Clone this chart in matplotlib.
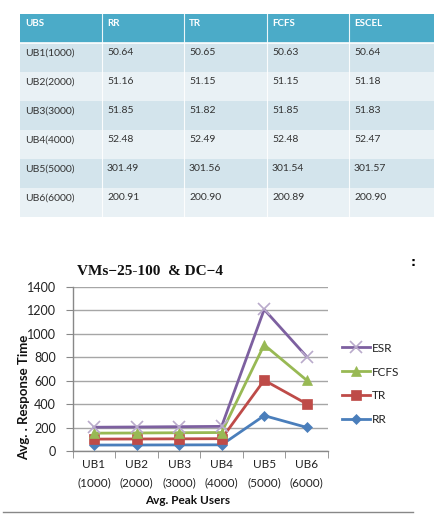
import numpy as np
import matplotlib
matplotlib.use("Agg")
import matplotlib.pyplot as plt
from matplotlib.patches import Rectangle
from matplotlib.lines import Line2D

# ---------------- data ----------------
table_header = ["UBS", "RR", "TR", "FCFS", "ESCEL"]
ub_rows = ["UB1(1000)", "UB2(2000)", "UB3(3000)", "UB4(4000)", "UB5(5000)", "UB6(6000)"]
rr = [50.64, 51.16, 51.85, 52.48, 301.49, 200.91]
tr = [50.65, 51.15, 51.82, 52.49, 301.56, 200.90]
fcfs = [50.63, 51.15, 51.85, 52.48, 301.54, 200.89]
escel = [50.64, 51.18, 51.83, 52.47, 301.57, 200.90]
rr_txt = ["50.64", "51.16", "51.85", "52.48", "301.49", "200.91"]
tr_txt = ["50.65", "51.15", "51.82", "52.49", "301.56", "200.90"]
fcfs_txt = ["50.63", "51.15", "51.85", "52.48", "301.54", "200.89"]
escel_txt = ["50.64", "51.18", "51.83", "52.47", "301.57", "200.90"]

categories = ["UB1\n(1000)", "UB2\n(2000)", "UB3\n(3000)", "UB4\n(4000)", "UB5\n(5000)", "UB6\n(6000)"]
series_names = ["RR", "TR", "FCFS", "ESR"]
yticks = [0, 200, 400, 600, 800, 1000, 1200, 1400]

W, H = 435, 521
fig = plt.figure(figsize=(W / 100, H / 100), dpi=100)
fig.patch.set_facecolor("white")

def fx(x):
    return x / W

def fy(y):
    return 1 - y / H

# ---------------- table ----------------
tfont = ["Lato", "DejaVu Sans"]
col_x = [20, 102, 184, 267, 349, 435]
row_y = [14, 43, 72, 101, 130, 159, 188, 217]
header_col = "#4BABC8"
row_cols = ["#D3E4EC", "#E9F1F5"]
for r in range(7):
    y0, y1 = row_y[r], row_y[r + 1]
    color = header_col if r == 0 else row_cols[(r - 1) % 2]
    fig.patches.append(Rectangle((fx(20), fy(y1)), fx(435 - 20), (y1 - y0) / H,
                                 transform=fig.transFigure, facecolor=color,
                                 edgecolor="none", zorder=0))
fig.add_artist(Line2D([fx(20), fx(435)], [fy(43), fy(43)], transform=fig.transFigure,
                      color="white", lw=1.2))
for cx in col_x[1:-1]:
    fig.add_artist(Line2D([fx(cx), fx(cx)], [fy(14), fy(217)], transform=fig.transFigure,
                          color="white", lw=0.8, alpha=0.9))

for c, h in enumerate(table_header):
    fig.text(fx(col_x[c] + 5), fy(24), h, color="white", fontsize=7, fontweight="bold",
             family=tfont, va="center", ha="left")
cols_txt = [ub_rows, rr_txt, tr_txt, fcfs_txt, escel_txt]
for r in range(6):
    yc = 52.7 + r * 29.0
    for c in range(5):
        fig.text(fx(col_x[c] + 5), fy(yc), cols_txt[c][r], color="#333333", fontsize=7.5,
                 family=tfont, va="center", ha="left")

# ---------------- chart ----------------
ax = fig.add_axes([fx(72.7), fy(451), fx(328 - 72.7), (451 - 286.7) / H])
x = np.arange(len(categories))
stack = np.cumsum(np.array([rr, tr, fcfs, escel]), axis=0)
colors = ["#4A7EBB", "#BE4B48", "#98B954", "#7D60A0"]
markers = ["D", "s", "^", "x"]
msizes = [5, 7, 7, 8]
lines = []
for i in range(4):
    ln, = ax.plot(x, stack[i], color=colors[i], lw=2.0, marker=markers[i],
                  markersize=msizes[i], markeredgewidth=1.2 if markers[i] == "x" else 0.5,
                  markeredgecolor=colors[i] if markers[i] != "x" else "#B9AACB",
                  markerfacecolor=colors[i], label=series_names[i], zorder=3 + i,
                  clip_on=False)
    lines.append(ln)

ax.set_xlim(-0.5, 5.5)
ax.set_ylim(0, 1400)
ax.set_yticks(yticks)
ax.set_yticklabels([str(v) for v in yticks], family=tfont, fontsize=9, color="#222222")
ax.set_xticks(x)
ax.set_xticklabels(categories, family=tfont, fontsize=8.5, color="#222222", linespacing=1.75)
ax.set_xticks(np.arange(-0.5, 6.0, 1.0), minor=True)
ax.tick_params(axis="x", which="major", length=0, pad=6)
ax.tick_params(axis="x", which="minor", length=5, color="#888888", direction="out")
ax.tick_params(axis="y", length=5, color="#888888", direction="out", pad=7)
ax.grid(axis="y", color="#A6A6A6", lw=1.0)
ax.set_axisbelow(True)
for s in ["top", "right"]:
    ax.spines[s].set_visible(False)
for s in ["left", "bottom"]:
    ax.spines[s].set_color("#888888")
    ax.spines[s].set_linewidth(1.0)

fig.text(fx(150), fy(271.7), "VMs\u221225-100  & DC\u22124", family=["Liberation Serif", "DejaVu Serif"],
         fontsize=11, fontweight="bold", ha="center", va="center", color="#111111")
fig.text(fx(24), fy(397), "Avg. . Response Time", rotation=90, family=tfont, fontsize=9.5,
         fontweight="bold", ha="center", va="center", color="#111111")
fig.text(fx(188), fy(500), "Avg. Peak Users", family=tfont, fontsize=8.5,
         fontweight="bold", ha="center", va="center", color="#111111")

handles = lines[::-1]
leg = fig.legend(handles, [h.get_label() for h in handles], loc="center left",
                 bbox_to_anchor=(fx(342), fy(384)), frameon=False,
                 prop={"family": tfont, "size": 8.5}, labelspacing=1.1,
                 handlelength=2.4, handletextpad=0.15, borderaxespad=0, borderpad=0)
for t in leg.get_texts():
    t.set_color("#222222")

# page decorations
fig.add_artist(Line2D([fx(3), fx(413)], [fy(512), fy(512)], transform=fig.transFigure,
                      color="#888888", lw=1.0))
fig.text(fx(413), fy(262), ":", fontsize=9, fontweight="bold", ha="center", va="center")

fig.savefig("out.png", dpi=100, facecolor="white")
